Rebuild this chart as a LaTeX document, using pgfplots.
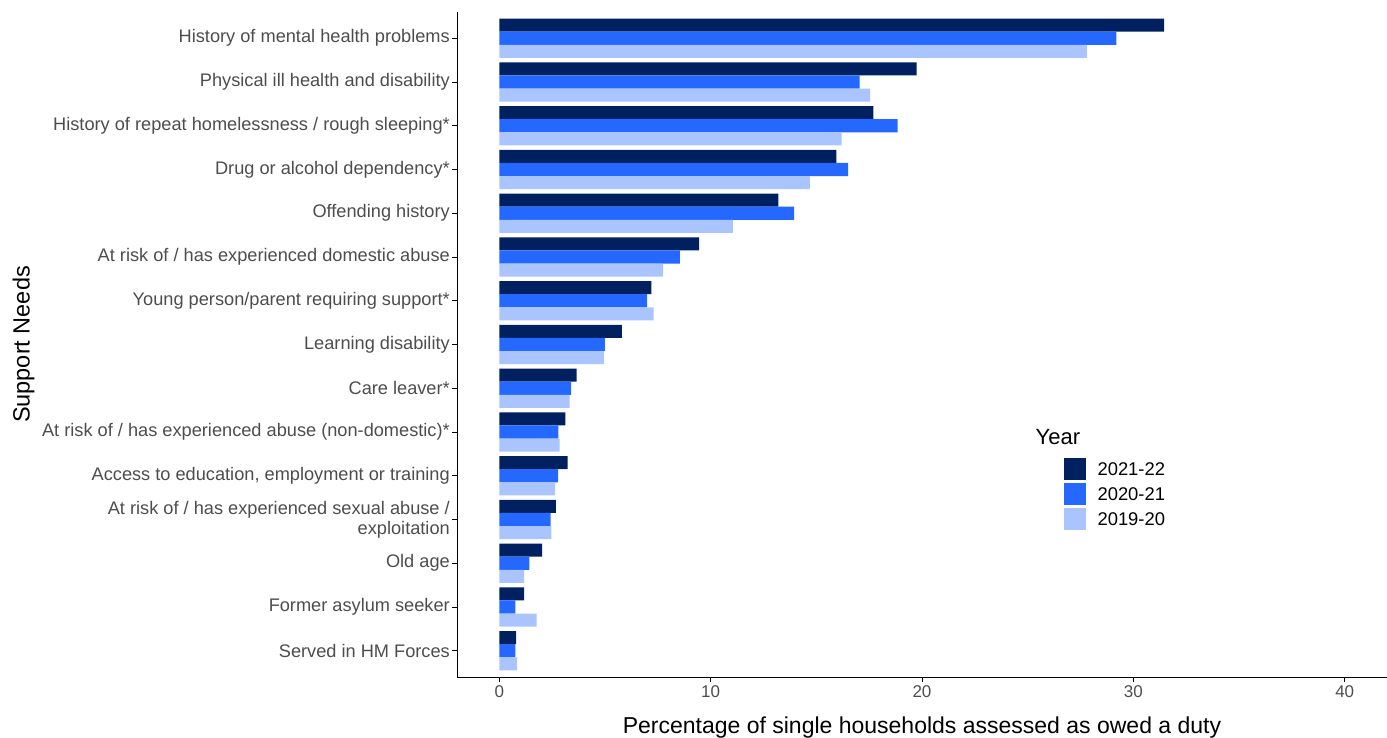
\documentclass[border=0pt]{standalone}
\usepackage{pgfplots}
\pgfplotsset{compat=1.18}
\usepackage{fontspec}
\setmainfont{Liberation Sans}
\definecolor{cA}{HTML}{002060}
\definecolor{cB}{HTML}{2468FF}
\definecolor{cC}{HTML}{A9C4FF}
\definecolor{lblgrey}{HTML}{4D4D4D}
\begin{document}
\begin{tikzpicture}[x=1pt,y=1pt]
\path[use as bounding box] (-457,-61) rectangle (930,677);
\begin{axis}[
  at={(0,0)}, anchor=south west,
  scale only axis, width=930pt, height=665pt,
  xbar, bar width=0.3,
  xmin=-2, xmax=42,
  ymin=0.4, ymax=15.6, y dir=reverse,
  axis x line*=bottom, axis y line*=left,
  axis line style={black, line width=0.9pt},
  xtick={0,10,20,30,40},
  ytick={1,...,15},
  yticklabels={History of mental health problems,
    Physical ill health and disability,
    History of repeat homelessness / rough sleeping*,
    Drug or alcohol dependency*,
    Offending history,
    At risk of / has experienced domestic abuse,
    Young person/parent requiring support*,
    Learning disability,
    Care leaver*,
    At risk of / has experienced abuse (non-domestic)*,
    {Access to education, employment or training},
    {At risk of / has experienced sexual abuse /\\exploitation},
    Old age,
    Former asylum seeker,
    Served in HM Forces},
  tick style={black, line width=0.8pt},
  tick align=outside, major tick length=5pt,
  yticklabel style={font=\fontsize{18.2}{20}\selectfont, text=lblgrey, align=right, inner sep=2pt},
  xticklabel style={font=\fontsize{17}{19}\selectfont, text=lblgrey},
  /pgf/number format/assume math mode=true,
  xlabel={Percentage of single households assessed as owed a duty},
  xlabel style={font=\fontsize{23}{26}\selectfont, yshift=-12pt},
  ylabel={Support Needs},
  ylabel style={font=\fontsize{23.5}{26}\selectfont, yshift=2pt},
  legend style={at={(rel axis cs:0.652,0.329)}, anchor=north west, draw=none, fill=none,
    font=\fontsize{18.4}{21}\selectfont, inner sep=0pt, row sep=3pt, column sep=10pt},
  legend cell align=left,
  legend image code/.code={\fill[#1] (0pt,-11pt) rectangle (22pt,11pt);},
]
\addplot[fill=cA, draw=none, bar shift=-0.3] coordinates {
(31.45,1) (19.75,2) (17.7,3) (15.95,4) (13.2,5) (9.45,6) (7.2,7) (5.8,8) (3.66,9) (3.13,10) (3.23,11) (2.68,12) (2.03,13) (1.18,14) (0.80,15)};
\addplot[fill=cB, draw=none, bar shift=0] coordinates {
(29.2,1) (17.05,2) (18.85,3) (16.5,4) (13.95,5) (8.55,6) (7.0,7) (5.0,8) (3.4,9) (2.8,10) (2.78,11) (2.43,12) (1.42,13) (0.76,14) (0.76,15)};
\addplot[fill=cC, draw=none, bar shift=0.3] coordinates {
(27.8,1) (17.55,2) (16.2,3) (14.7,4) (11.05,5) (7.75,6) (7.3,7) (4.95,8) (3.33,9) (2.86,10) (2.64,11) (2.46,12) (1.18,13) (1.77,14) (0.85,15)};
\legend{2021-22,2020-21,2019-20}
\node[anchor=west, font=\fontsize{22}{24}\selectfont] at (rel axis cs:0.6185,0.361) {Year};
\end{axis}
\end{tikzpicture}
\end{document}
